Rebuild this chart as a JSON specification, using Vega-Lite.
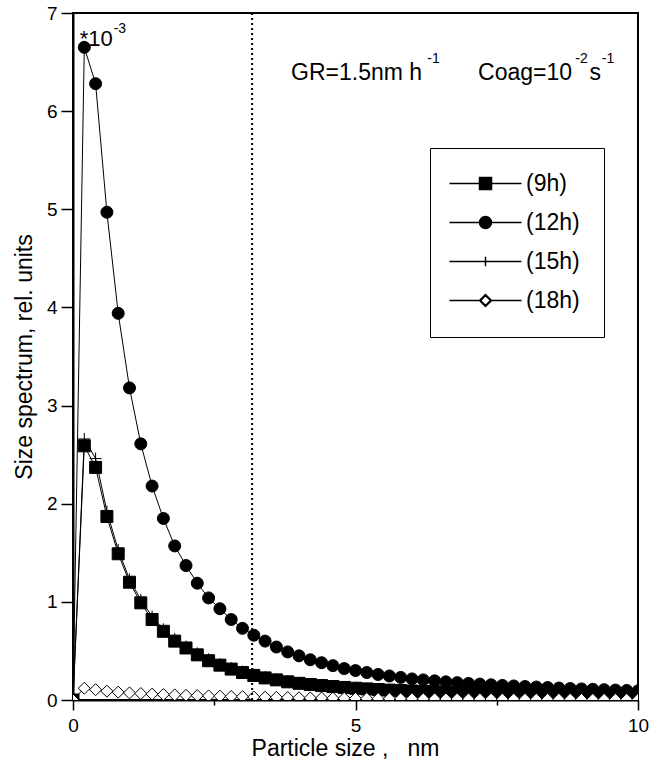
{
  "$schema": "https://vega.github.io/schema/vega-lite/v6.json",
  "width": 565,
  "height": 687,
  "autosize": {"type": "none"},
  "padding": {"left": 73, "top": 13, "right": 12, "bottom": 65},
  "background": "white",
  "config": {
    "view": {"stroke": "black", "strokeWidth": 2},
    "font": "Liberation Sans",
    "axis": {
      "grid": false,
      "domainColor": "black",
      "domainWidth": 2,
      "tickColor": "black",
      "tickWidth": 1.5,
      "labelColor": "black",
      "labelFont": "Liberation Sans",
      "labelFontSize": 19,
      "titleColor": "black",
      "titleFont": "Liberation Sans",
      "titleFontSize": 23,
      "titleFontWeight": "normal"
    }
  },
  "datasets": {
    "spectra": [
      {"series": "(9h)", "x": 0, "y": 0},
      {"series": "(9h)", "x": 0.2, "y": 2.59},
      {"series": "(9h)", "x": 0.4, "y": 2.37},
      {"series": "(9h)", "x": 0.6, "y": 1.87},
      {"series": "(9h)", "x": 0.8, "y": 1.49},
      {"series": "(9h)", "x": 1.0, "y": 1.2},
      {"series": "(9h)", "x": 1.2, "y": 0.99},
      {"series": "(9h)", "x": 1.4, "y": 0.82},
      {"series": "(9h)", "x": 1.6, "y": 0.7},
      {"series": "(9h)", "x": 1.8, "y": 0.6},
      {"series": "(9h)", "x": 2.0, "y": 0.53},
      {"series": "(9h)", "x": 2.2, "y": 0.46},
      {"series": "(9h)", "x": 2.4, "y": 0.4},
      {"series": "(9h)", "x": 2.6, "y": 0.355},
      {"series": "(9h)", "x": 2.8, "y": 0.315},
      {"series": "(9h)", "x": 3.0, "y": 0.28},
      {"series": "(9h)", "x": 3.2, "y": 0.25},
      {"series": "(9h)", "x": 3.4, "y": 0.225},
      {"series": "(9h)", "x": 3.6, "y": 0.205},
      {"series": "(9h)", "x": 3.8, "y": 0.185},
      {"series": "(9h)", "x": 4.0, "y": 0.17},
      {"series": "(9h)", "x": 4.2, "y": 0.158},
      {"series": "(9h)", "x": 4.4, "y": 0.147},
      {"series": "(9h)", "x": 4.6, "y": 0.137},
      {"series": "(9h)", "x": 4.8, "y": 0.128},
      {"series": "(9h)", "x": 5.0, "y": 0.12},
      {"series": "(9h)", "x": 5.2, "y": 0.113},
      {"series": "(9h)", "x": 5.4, "y": 0.107},
      {"series": "(9h)", "x": 5.6, "y": 0.101},
      {"series": "(9h)", "x": 5.8, "y": 0.096},
      {"series": "(9h)", "x": 6.0, "y": 0.091},
      {"series": "(9h)", "x": 6.2, "y": 0.087},
      {"series": "(9h)", "x": 6.4, "y": 0.083},
      {"series": "(9h)", "x": 6.6, "y": 0.079},
      {"series": "(9h)", "x": 6.8, "y": 0.076},
      {"series": "(9h)", "x": 7.0, "y": 0.073},
      {"series": "(9h)", "x": 7.2, "y": 0.07},
      {"series": "(9h)", "x": 7.4, "y": 0.067},
      {"series": "(9h)", "x": 7.6, "y": 0.065},
      {"series": "(9h)", "x": 7.8, "y": 0.062},
      {"series": "(9h)", "x": 8.0, "y": 0.06},
      {"series": "(9h)", "x": 8.2, "y": 0.058},
      {"series": "(9h)", "x": 8.4, "y": 0.056},
      {"series": "(9h)", "x": 8.6, "y": 0.054},
      {"series": "(9h)", "x": 8.8, "y": 0.052},
      {"series": "(9h)", "x": 9.0, "y": 0.05},
      {"series": "(9h)", "x": 9.2, "y": 0.049},
      {"series": "(9h)", "x": 9.4, "y": 0.047},
      {"series": "(9h)", "x": 9.6, "y": 0.046},
      {"series": "(9h)", "x": 9.8, "y": 0.044},
      {"series": "(9h)", "x": 10.0, "y": 0.043},
      {"series": "(12h)", "x": 0, "y": 0},
      {"series": "(12h)", "x": 0.2, "y": 6.65},
      {"series": "(12h)", "x": 0.4, "y": 6.28},
      {"series": "(12h)", "x": 0.6, "y": 4.97},
      {"series": "(12h)", "x": 0.8, "y": 3.94},
      {"series": "(12h)", "x": 1.0, "y": 3.18},
      {"series": "(12h)", "x": 1.2, "y": 2.61},
      {"series": "(12h)", "x": 1.4, "y": 2.18},
      {"series": "(12h)", "x": 1.6, "y": 1.85},
      {"series": "(12h)", "x": 1.8, "y": 1.57},
      {"series": "(12h)", "x": 2.0, "y": 1.37},
      {"series": "(12h)", "x": 2.2, "y": 1.19},
      {"series": "(12h)", "x": 2.4, "y": 1.04},
      {"series": "(12h)", "x": 2.6, "y": 0.93},
      {"series": "(12h)", "x": 2.8, "y": 0.82},
      {"series": "(12h)", "x": 3.0, "y": 0.73},
      {"series": "(12h)", "x": 3.2, "y": 0.66},
      {"series": "(12h)", "x": 3.4, "y": 0.6},
      {"series": "(12h)", "x": 3.6, "y": 0.54},
      {"series": "(12h)", "x": 3.8, "y": 0.49},
      {"series": "(12h)", "x": 4.0, "y": 0.45},
      {"series": "(12h)", "x": 4.2, "y": 0.41},
      {"series": "(12h)", "x": 4.4, "y": 0.38},
      {"series": "(12h)", "x": 4.6, "y": 0.35},
      {"series": "(12h)", "x": 4.8, "y": 0.32},
      {"series": "(12h)", "x": 5.0, "y": 0.3},
      {"series": "(12h)", "x": 5.2, "y": 0.28},
      {"series": "(12h)", "x": 5.4, "y": 0.26},
      {"series": "(12h)", "x": 5.6, "y": 0.245},
      {"series": "(12h)", "x": 5.8, "y": 0.23},
      {"series": "(12h)", "x": 6.0, "y": 0.215},
      {"series": "(12h)", "x": 6.2, "y": 0.205},
      {"series": "(12h)", "x": 6.4, "y": 0.195},
      {"series": "(12h)", "x": 6.6, "y": 0.185},
      {"series": "(12h)", "x": 6.8, "y": 0.177},
      {"series": "(12h)", "x": 7.0, "y": 0.169},
      {"series": "(12h)", "x": 7.2, "y": 0.162},
      {"series": "(12h)", "x": 7.4, "y": 0.155},
      {"series": "(12h)", "x": 7.6, "y": 0.149},
      {"series": "(12h)", "x": 7.8, "y": 0.143},
      {"series": "(12h)", "x": 8.0, "y": 0.137},
      {"series": "(12h)", "x": 8.2, "y": 0.132},
      {"series": "(12h)", "x": 8.4, "y": 0.127},
      {"series": "(12h)", "x": 8.6, "y": 0.122},
      {"series": "(12h)", "x": 8.8, "y": 0.117},
      {"series": "(12h)", "x": 9.0, "y": 0.113},
      {"series": "(12h)", "x": 9.2, "y": 0.109},
      {"series": "(12h)", "x": 9.4, "y": 0.105},
      {"series": "(12h)", "x": 9.6, "y": 0.101},
      {"series": "(12h)", "x": 9.8, "y": 0.097},
      {"series": "(12h)", "x": 10.0, "y": 0.093},
      {"series": "(15h)", "x": 0, "y": 0},
      {"series": "(15h)", "x": 0.2, "y": 2.66},
      {"series": "(15h)", "x": 0.4, "y": 2.46},
      {"series": "(15h)", "x": 0.6, "y": 1.92},
      {"series": "(15h)", "x": 0.8, "y": 1.53},
      {"series": "(15h)", "x": 1.0, "y": 1.23},
      {"series": "(15h)", "x": 1.2, "y": 1.02},
      {"series": "(15h)", "x": 1.4, "y": 0.85},
      {"series": "(15h)", "x": 1.6, "y": 0.72},
      {"series": "(15h)", "x": 1.8, "y": 0.62},
      {"series": "(15h)", "x": 2.0, "y": 0.545},
      {"series": "(15h)", "x": 2.2, "y": 0.475},
      {"series": "(15h)", "x": 2.4, "y": 0.415},
      {"series": "(15h)", "x": 2.6, "y": 0.365},
      {"series": "(15h)", "x": 2.8, "y": 0.325},
      {"series": "(15h)", "x": 3.0, "y": 0.29},
      {"series": "(15h)", "x": 3.2, "y": 0.26},
      {"series": "(15h)", "x": 3.4, "y": 0.233},
      {"series": "(15h)", "x": 3.6, "y": 0.21},
      {"series": "(15h)", "x": 3.8, "y": 0.19},
      {"series": "(15h)", "x": 4.0, "y": 0.175},
      {"series": "(15h)", "x": 4.2, "y": 0.162},
      {"series": "(15h)", "x": 4.4, "y": 0.151},
      {"series": "(15h)", "x": 4.6, "y": 0.141},
      {"series": "(15h)", "x": 4.8, "y": 0.132},
      {"series": "(15h)", "x": 5.0, "y": 0.124},
      {"series": "(15h)", "x": 5.2, "y": 0.117},
      {"series": "(15h)", "x": 5.4, "y": 0.11},
      {"series": "(15h)", "x": 5.6, "y": 0.104},
      {"series": "(15h)", "x": 5.8, "y": 0.099},
      {"series": "(15h)", "x": 6.0, "y": 0.094},
      {"series": "(15h)", "x": 6.2, "y": 0.09},
      {"series": "(15h)", "x": 6.4, "y": 0.086},
      {"series": "(15h)", "x": 6.6, "y": 0.082},
      {"series": "(15h)", "x": 6.8, "y": 0.078},
      {"series": "(15h)", "x": 7.0, "y": 0.075},
      {"series": "(15h)", "x": 7.2, "y": 0.072},
      {"series": "(15h)", "x": 7.4, "y": 0.069},
      {"series": "(15h)", "x": 7.6, "y": 0.067},
      {"series": "(15h)", "x": 7.8, "y": 0.064},
      {"series": "(15h)", "x": 8.0, "y": 0.062},
      {"series": "(15h)", "x": 8.2, "y": 0.06},
      {"series": "(15h)", "x": 8.4, "y": 0.058},
      {"series": "(15h)", "x": 8.6, "y": 0.056},
      {"series": "(15h)", "x": 8.8, "y": 0.054},
      {"series": "(15h)", "x": 9.0, "y": 0.052},
      {"series": "(15h)", "x": 9.2, "y": 0.05},
      {"series": "(15h)", "x": 9.4, "y": 0.049},
      {"series": "(15h)", "x": 9.6, "y": 0.047},
      {"series": "(15h)", "x": 9.8, "y": 0.046},
      {"series": "(15h)", "x": 10.0, "y": 0.044},
      {"series": "(18h)", "x": 0, "y": 0},
      {"series": "(18h)", "x": 0.2, "y": 0.12},
      {"series": "(18h)", "x": 0.4, "y": 0.105},
      {"series": "(18h)", "x": 0.6, "y": 0.09},
      {"series": "(18h)", "x": 0.8, "y": 0.08},
      {"series": "(18h)", "x": 1.0, "y": 0.072},
      {"series": "(18h)", "x": 1.2, "y": 0.066},
      {"series": "(18h)", "x": 1.4, "y": 0.06},
      {"series": "(18h)", "x": 1.6, "y": 0.056},
      {"series": "(18h)", "x": 1.8, "y": 0.052},
      {"series": "(18h)", "x": 2.0, "y": 0.048},
      {"series": "(18h)", "x": 2.2, "y": 0.045},
      {"series": "(18h)", "x": 2.4, "y": 0.042},
      {"series": "(18h)", "x": 2.6, "y": 0.039},
      {"series": "(18h)", "x": 2.8, "y": 0.036},
      {"series": "(18h)", "x": 3.0, "y": 0.034},
      {"series": "(18h)", "x": 3.2, "y": 0.031},
      {"series": "(18h)", "x": 3.4, "y": 0.029},
      {"series": "(18h)", "x": 3.6, "y": 0.027},
      {"series": "(18h)", "x": 3.8, "y": 0.025},
      {"series": "(18h)", "x": 4.0, "y": 0.023},
      {"series": "(18h)", "x": 4.2, "y": 0.021},
      {"series": "(18h)", "x": 4.4, "y": 0.02},
      {"series": "(18h)", "x": 4.6, "y": 0.018},
      {"series": "(18h)", "x": 4.8, "y": 0.017},
      {"series": "(18h)", "x": 5.0, "y": 0.016},
      {"series": "(18h)", "x": 5.2, "y": 0.015},
      {"series": "(18h)", "x": 5.4, "y": 0.014},
      {"series": "(18h)", "x": 5.6, "y": 0.013},
      {"series": "(18h)", "x": 5.8, "y": 0.012},
      {"series": "(18h)", "x": 6.0, "y": 0.012},
      {"series": "(18h)", "x": 6.2, "y": 0.011},
      {"series": "(18h)", "x": 6.4, "y": 0.011},
      {"series": "(18h)", "x": 6.6, "y": 0.01},
      {"series": "(18h)", "x": 6.8, "y": 0.01},
      {"series": "(18h)", "x": 7.0, "y": 0.009},
      {"series": "(18h)", "x": 7.2, "y": 0.009},
      {"series": "(18h)", "x": 7.4, "y": 0.009},
      {"series": "(18h)", "x": 7.6, "y": 0.008},
      {"series": "(18h)", "x": 7.8, "y": 0.008},
      {"series": "(18h)", "x": 8.0, "y": 0.008},
      {"series": "(18h)", "x": 8.2, "y": 0.007},
      {"series": "(18h)", "x": 8.4, "y": 0.007},
      {"series": "(18h)", "x": 8.6, "y": 0.007},
      {"series": "(18h)", "x": 8.8, "y": 0.007},
      {"series": "(18h)", "x": 9.0, "y": 0.006},
      {"series": "(18h)", "x": 9.2, "y": 0.006},
      {"series": "(18h)", "x": 9.4, "y": 0.006},
      {"series": "(18h)", "x": 9.6, "y": 0.006},
      {"series": "(18h)", "x": 9.8, "y": 0.006},
      {"series": "(18h)", "x": 10.0, "y": 0.005}
    ]
  },
  "layer": [
    {
      "data": {"name": "spectra"},
      "mark": {"type": "line", "color": "black", "strokeWidth": 1, "clip": true},
      "encoding": {
        "x": {
          "field": "x", "type": "quantitative",
          "scale": {"domain": [0, 10], "nice": false, "zero": false},
          "axis": {
            "title": "Particle size\u00a0,\u00a0\u00a0\u00a0nm",
            "titleX": 272,
            "values": [0, 2.5, 5, 7.5, 10],
            "format": "d",
            "labelExpr": "datum.value % 5 === 0 ? datum.label : ''",
            "tickSize": {"condition": {"test": "datum.value % 5 === 0", "value": 10}, "value": 5},
            "labelPadding": 6,
            "titlePadding": 2,
            "labelFlush": false
          }
        },
        "y": {
          "field": "y", "type": "quantitative",
          "scale": {"domain": [0, 7], "nice": false, "zero": false},
          "axis": {
            "title": "Size spectrum, rel. units",
            "values": [0, 0.5, 1, 1.5, 2, 2.5, 3, 3.5, 4, 4.5, 5, 5.5, 6, 6.5, 7],
            "format": "d",
            "labelExpr": "datum.value % 1 === 0 ? datum.label : ''",
            "tickSize": {"condition": {"test": "datum.value % 1 === 0", "value": 12}, "value": 6},
            "labelPadding": 4,
            "titlePadding": 10,
            "labelFlush": false
          }
        },
        "detail": {"field": "series"}
      }
    },
    {
      "data": {"name": "spectra"},
      "mark": {"type": "point", "filled": true, "size": 144, "stroke": "black", "strokeWidth": 1, "opacity": 1, "clip": true},
      "encoding": {
        "x": {"field": "x", "type": "quantitative"},
        "y": {"field": "y", "type": "quantitative"},
        "shape": {
          "field": "series", "type": "nominal",
          "scale": {"domain": ["(9h)", "(12h)", "(15h)", "(18h)"], "range": ["square", "circle", "M-1,0H1M0,-1V1", "diamond"]},
          "legend": null
        },
        "fill": {
          "field": "series", "type": "nominal",
          "scale": {"domain": ["(9h)", "(12h)", "(15h)", "(18h)"], "range": ["black", "black", "transparent", "white"]},
          "legend": null
        }
      }
    },
    {
      "data": {"name": "spectra"},
      "mark": {"type": "point", "filled": true, "fill": "black", "size": 144, "stroke": "black", "strokeWidth": 1, "opacity": 0},
      "encoding": {
        "x": {"field": "x", "type": "quantitative"},
        "y": {"field": "y", "type": "quantitative"},
        "shape": {
          "field": "series", "type": "nominal",
          "scale": {"domain": ["(9h)", "(12h)", "(15h)", "(18h)"], "range": ["M-6,0H6M-1,-1H1V1H-1Z", "M-6,0H6M-1,0A1,1,0,1,1,1,0A1,1,0,1,1,-1,0Z", "M-6,0H6M0,-0.8V0.8", "M-6,0H-1M1,0H6M-1,0L0,-1L1,0L0,1ZM-0.82,0L0,0.82L0.82,0L0,-0.82Z"]},
          "legend": {
            "title": null, "orient": "none", "legendX": 357, "legendY": 135,
            "padding": 24, "strokeColor": "black", "fillColor": "white",
            "labelFont": "Liberation Sans", "labelFontSize": 23, "labelColor": "black",
            "symbolSize": 144, "symbolOffset": 20, "labelOffset": 29, "rowPadding": 15,
            "encode": {"symbols": {"update": {
              "stroke": {"value": "black"},
              "strokeWidth": {"value": 1},
              "opacity": {"value": 1},
              "fill": {"value": "black"}
            }}}
          }
        }
      }
    },
    {
      "data": {"values": [{}]},
      "mark": {"type": "rule", "color": "black", "strokeWidth": 2, "strokeDash": [2, 3]},
      "encoding": {"x": {"datum": 3.17}}
    },
    {
      "data": {"values": [{}]},
      "mark": {"type": "text", "text": "*10", "align": "left", "baseline": "alphabetic", "fontSize": 22, "color": "black"},
      "encoding": {"x": {"datum": 0.12}, "y": {"datum": 6.66}}
    },
    {
      "data": {"values": [{}]},
      "mark": {"type": "text", "text": "-3", "align": "left", "baseline": "alphabetic", "fontSize": 14, "color": "black"},
      "encoding": {"x": {"datum": 0.72}, "y": {"datum": 6.8}}
    },
    {
      "data": {"values": [{}]},
      "mark": {"type": "text", "text": "GR=1.5nm h", "align": "left", "baseline": "alphabetic", "fontSize": 23, "color": "black"},
      "encoding": {"x": {"datum": 3.86}, "y": {"datum": 6.32}}
    },
    {
      "data": {"values": [{}]},
      "mark": {"type": "text", "text": "-1", "align": "left", "baseline": "alphabetic", "fontSize": 14, "color": "black"},
      "encoding": {"x": {"datum": 6.27}, "y": {"datum": 6.49}}
    },
    {
      "data": {"values": [{}]},
      "mark": {"type": "text", "text": "Coag=10", "align": "left", "baseline": "alphabetic", "fontSize": 23, "color": "black"},
      "encoding": {"x": {"datum": 7.17}, "y": {"datum": 6.32}}
    },
    {
      "data": {"values": [{}]},
      "mark": {"type": "text", "text": "-2", "align": "left", "baseline": "alphabetic", "fontSize": 14, "color": "black"},
      "encoding": {"x": {"datum": 8.89}, "y": {"datum": 6.49}}
    },
    {
      "data": {"values": [{}]},
      "mark": {"type": "text", "text": "s", "align": "left", "baseline": "alphabetic", "fontSize": 23, "color": "black"},
      "encoding": {"x": {"datum": 9.14}, "y": {"datum": 6.32}}
    },
    {
      "data": {"values": [{}]},
      "mark": {"type": "text", "text": "-1", "align": "left", "baseline": "alphabetic", "fontSize": 14, "color": "black"},
      "encoding": {"x": {"datum": 9.36}, "y": {"datum": 6.49}}
    }
  ],
  "resolve": {"scale": {"shape": "independent", "fill": "independent"}}
}
